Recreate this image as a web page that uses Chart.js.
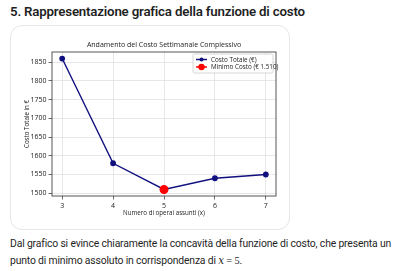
<!DOCTYPE html>
<html>
<head>
<meta charset="utf-8">
<script src="https://cdn.jsdelivr.net/npm/chart.js@4.4.0/dist/chart.umd.min.js"></script>
<style>
  html, body { margin: 0; padding: 0; background: #fff; width: 399px; height: 271px; overflow: hidden; }
  body { position: relative; font-family: Roboto, "Open Sans", sans-serif; color: #1f1f1f; }
  h2 { position: absolute; left: 10px; top: 4px; margin: 0; font-size: 13.3px; letter-spacing: -0.2px; font-weight: 600; white-space: nowrap; }
  .card { position: absolute; left: 10px; top: 25px; width: 278px; height: 203px; border: 1px solid #e6e6e6; border-radius: 12px; }
  #wrap { position: absolute; left: 10px; top: 25px; width: 280px; height: 205px; }
  p { position: absolute; left: 10px; top: 235px; margin: 0; font-size: 10.4px; letter-spacing: -0.17px; line-height: 17px; white-space: nowrap; }
  .m { font-family: "DejaVu Serif", "Liberation Serif", serif; font-style: italic; }
  .n { font-family: "Liberation Serif", serif; }
</style>
</head>
<body>
<h2>5. Rappresentazione grafica della funzione di costo</h2>
<div class="card"></div>
<div id="wrap"><canvas id="c"></canvas></div>
<p>Dal grafico si evince chiaramente la concavità della funzione di costo, che presenta un<br>punto di minimo assoluto in corrispondenza di <span class="m">x</span> <span class="n">= 5</span>.</p>
<script>
// ---- data ----
const operai = [3, 4, 5, 6, 7];
const costoTotale = [1860, 1580, 1510, 1540, 1550];
const minimoX = [5];
const minimoY = [1510];
const xTicks = [3, 4, 5, 6, 7];
const yTicks = [1500, 1550, 1600, 1650, 1700, 1750, 1800, 1850];
const labelCosto = "Costo Totale (€)";
const labelMinimo = "Minimo Costo (€ 1.510)";
const titolo = "Andamento del Costo Settimanale Complessivo";
const titoloX = "Numero di operai assunti (x)";
const titoloY = "Costo Totale in €";

const FONT = "'Open Sans', Roboto, sans-serif";
const NAVY = '#10107f';
const RED = '#ff0000';

const framePlugin = {
  id: 'frame',
  afterDatasetsDraw(chart) {
    const {ctx, chartArea: a} = chart;
    ctx.save();
    // title centred on the plot area
    ctx.fillStyle = '#222';
    ctx.font = "7px " + FONT;
    ctx.textAlign = 'center';
    ctx.textBaseline = 'middle';
    ctx.fillText(titolo, (a.left + a.right) / 2, 19.5);
    ctx.textAlign = 'left';
    // frame
    ctx.strokeStyle = '#444';
    ctx.lineWidth = 0.9;
    ctx.strokeRect(a.left, a.top, a.right - a.left, a.bottom - a.top);
    // legend
    const w = 80, h = 19;
    const bx = a.right - 3 - w, by = a.top + 2;
    ctx.fillStyle = 'rgba(255,255,255,0.85)';
    ctx.strokeStyle = '#cccccc';
    ctx.lineWidth = 0.8;
    ctx.beginPath();
    ctx.roundRect(bx, by, w, h, 1.5);
    ctx.fill();
    ctx.stroke();
    const items = chart.data.datasets;
    ctx.font = "6.3px " + FONT;
    items.forEach((ds, i) => {
      const y = by + 5.5 + i * 7.5;
      ctx.strokeStyle = ds.borderColor;
      ctx.lineWidth = 1.5;
      ctx.beginPath();
      ctx.moveTo(bx + 3, y);
      ctx.lineTo(bx + 14, y);
      ctx.stroke();
      ctx.fillStyle = ds.pointBackgroundColor;
      ctx.beginPath();
      ctx.arc(bx + 8.5, y, i === 0 ? 2 : 3.2, 0, Math.PI * 2);
      ctx.fill();
      ctx.fillStyle = '#222';
      ctx.fillText(ds.label, bx + 18, y + 0.3);
    });
    ctx.restore();
  }
};

new Chart(document.getElementById('c'), {
  type: 'line',
  data: {
    datasets: [
      {
        label: labelCosto,
        data: operai.map((x, i) => ({x, y: costoTotale[i]})),
        borderColor: NAVY,
        backgroundColor: NAVY,
        pointBackgroundColor: NAVY,
        pointBorderColor: NAVY,
        borderWidth: 1.4,
        pointRadius: 2.2,
        tension: 0,
        order: 2
      },
      {
        label: labelMinimo,
        data: minimoX.map((x, i) => ({x, y: minimoY[i]})),
        borderColor: RED,
        backgroundColor: RED,
        pointBackgroundColor: RED,
        pointBorderColor: RED,
        borderWidth: 1.4,
        pointRadius: 3.8,
        showLine: false,
        order: 1
      }
    ]
  },
  options: {
    responsive: true,
    maintainAspectRatio: false,
    animation: false,
    layout: { padding: { left: 0, right: 14, top: 27, bottom: 0 } },
    plugins: {
      legend: { display: false },
      tooltip: { enabled: false },
      title: { display: false }
    },
    scales: {
      x: {
        type: 'linear',
        min: 2.8,
        max: 7.2,
        afterBuildTicks: s => { s.ticks = xTicks.map(v => ({value: v})); },
        afterFit: s => { s.height = 34; },
        grid: { color: '#dddddd', lineWidth: 0.7, borderDash: [2, 2], tickColor: '#444', tickLength: 3.5, tickBorderDash: [], tickWidth: 0.8 },
        border: { display: false },
        ticks: { color: '#222', font: { family: FONT, size: 7 }, padding: 2.5, maxRotation: 0, callback: v => String(v) },
        title: { display: true, text: titoloX, color: '#222', font: { family: FONT, size: 6.2 }, padding: { top: 0, bottom: 13 } }
      },
      y: {
        type: 'linear',
        min: 1492.5,
        max: 1877.5,
        afterBuildTicks: s => { s.ticks = yTicks.map(v => ({value: v})); },
        afterFit: s => { s.width = 42; },
        grid: { color: '#dddddd', lineWidth: 0.7, borderDash: [2, 2], tickColor: '#444', tickLength: 3.5, tickBorderDash: [], tickWidth: 0.8 },
        border: { display: false },
        ticks: { color: '#222', font: { family: FONT, size: 7 }, padding: 2, callback: v => String(v) },
        title: { display: true, text: titoloY, color: '#222', font: { family: FONT, size: 6.2 }, padding: { top: 13.3, bottom: 0 } }
      }
    }
  },
  plugins: [framePlugin]
});
</script>
</body>
</html>
